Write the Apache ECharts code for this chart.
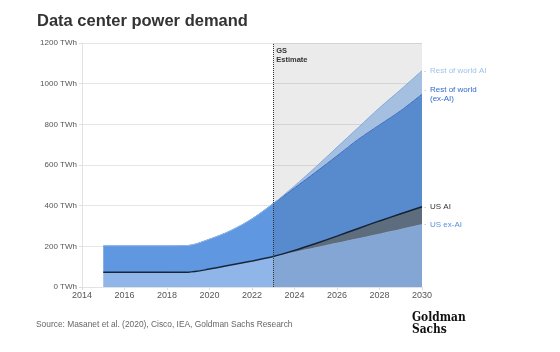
<!DOCTYPE html>
<html>
<head>
<meta charset="utf-8">
<script src="https://cdn.jsdelivr.net/npm/echarts@6/dist/echarts.min.js"></script>
<style>
  html, body { margin: 0; padding: 0; background: #fff; }
  #chart { width: 560px; height: 352px; }
</style>
</head>
<body>
<div id="chart"></div>
<script>
// data (TWh); 2014 has no value
const years = ["2014", "2015", "2016", "2017", "2018", "2019", "2020", "2021", "2022", "2023", "2024", "2025", "2026", "2027", "2028", "2029", "2030"];
const usExAI = [null, 72, 72, 72, 72, 73, 88, 108, 128, 150, 172, 195, 218, 240, 262, 285, 308];
const usAI = [null, 0, 0, 0, 0, 0, 0, 0, 0, 0, 8, 19, 32, 48, 63, 75, 87];
const rowExAI = [null, 130, 130, 130, 130, 131, 147, 169, 207, 260, 307, 351, 395, 438, 472, 507, 553];
const rowAI = [null, 0, 0, 0, 0, 0, 0, 0, 0, 0, 10, 25, 42, 58, 84, 104, 116];
const estimateStart = "2023";
const estimateEnd = "2030";

const chart = echarts.init(document.getElementById("chart"));

const font = "Liberation Sans, Arial, sans-serif";

function endLabel(lines, color) {
  // first line gets the little grey dash, the rest are indented to match
  const text = lines
    .map((l, i) => (i === 0 ? "{d|-}" : "{e|}") + "{t|" + l + "}")
    .join("\n");
  return {
    show: true,
    distance: 2,
    formatter: text,
    rich: {
      d: { color: "#bbb", fontSize: 7, width: 6, fontFamily: font },
      e: { width: 6, fontSize: 7 },
      t: { color: color, fontSize: 8, lineHeight: 8.5, fontFamily: font },
    },
  };
}

function areaSeries(name, vals, line, fill, label, z) {
  return {
    name: name,
    type: "line",
    stack: "total",
    data: vals,
    smooth: 0.3,
    symbol: "none",
    z: z,
    lineStyle: line,
    areaStyle: { color: fill, opacity: 1 },
    endLabel: label,
  };
}

const option = {
  animation: false,
  backgroundColor: "#fff",
  textStyle: { fontFamily: font },
  title: {
    text: "Data center power demand",
    left: 32,
    top: 8,
    textStyle: { fontSize: 16.5, fontWeight: "bold", color: "#333", fontFamily: font },
  },
  grid: { left: 82, right: 138, top: 43, bottom: 65 },
  xAxis: {
    type: "category",
    data: years,
    boundaryGap: false,
    axisLine: { show: true, lineStyle: { color: "#e2e2e2" } },
    axisTick: { show: true, length: 3, interval: 1, lineStyle: { color: "#ddd" } },
    axisLabel: { color: "#555", fontSize: 9, margin: 4, interval: 1 },
    splitLine: { show: false },
  },
  yAxis: {
    type: "value",
    min: 0,
    max: 1200,
    interval: 200,
    axisLine: { show: true, lineStyle: { color: "#e2e2e2" } },
    axisTick: { show: true, length: 3, lineStyle: { color: "#ddd" } },
    axisLabel: { color: "#555", fontSize: 8, margin: 5, formatter: (v) => v + " TWh" },
    splitLine: { lineStyle: { color: "#e6e6e6" } },
  },
  series: [
    areaSeries("US ex-AI", usExAI, { width: 0.8, color: "#9dbdea" }, "#90b5e8",
      endLabel(["US ex-AI"], "#5a8fe0"), 2),
    areaSeries("US AI", usAI, { width: 1.5, color: "#15253a" }, "#667789",
      endLabel(["US AI"], "#333"), 4),
    areaSeries("Rest of world (ex-AI)", rowExAI, { width: 1, color: "#3f78d2" }, "#5f97e0",
      endLabel(["Rest of world", "(ex-AI)"], "#2f6bcc"), 2),
    areaSeries("Rest of world AI", rowAI, { width: 1, color: "#8dbbf0" }, "#b3d0f5",
      endLabel(["Rest of world AI"], "#9fc2ec"), 2),
    {
      name: "estimate",
      type: "line",
      data: years.map(() => null),
      z: 6,
      silent: true,
      symbol: "none",
      markArea: {
        z: 10,
        silent: true,
        itemStyle: { color: "rgba(0,0,0,0.08)" },
        label: {
          show: true,
          position: "insideTopLeft",
          distance: 3,
          formatter: "GS\nEstimate",
          color: "#333",
          fontSize: 7.5,
          fontWeight: "bold",
          lineHeight: 9,
          fontFamily: font,
        },
        data: [[{ xAxis: estimateStart }, { xAxis: estimateEnd }]],
      },
      markLine: {
        z: 11,
        silent: true,
        symbol: "none",
        label: { show: false },
        lineStyle: { type: "dotted", color: "#333", width: 1 },
        data: [{ xAxis: estimateStart }],
      },
    },
  ],
  graphic: [
    {
      type: "text",
      left: 36,
      top: 321,
      style: {
        text: "Source: Masanet et al. (2020), Cisco, IEA, Goldman Sachs Research",
        fill: "#666",
        fontSize: 8.4,
        fontFamily: font,
      },
    },
    {
      type: "text",
      left: 412,
      top: 311,
      scaleX: 0.82,
      style: {
        text: "Goldman\nSachs",
        fill: "#111",
        fontSize: 13,
        lineHeight: 12,
        fontWeight: "bold",
        fontFamily: "DejaVu Serif, serif",
      },
    },
  ],
};

chart.setOption(option);
</script>
</body>
</html>
